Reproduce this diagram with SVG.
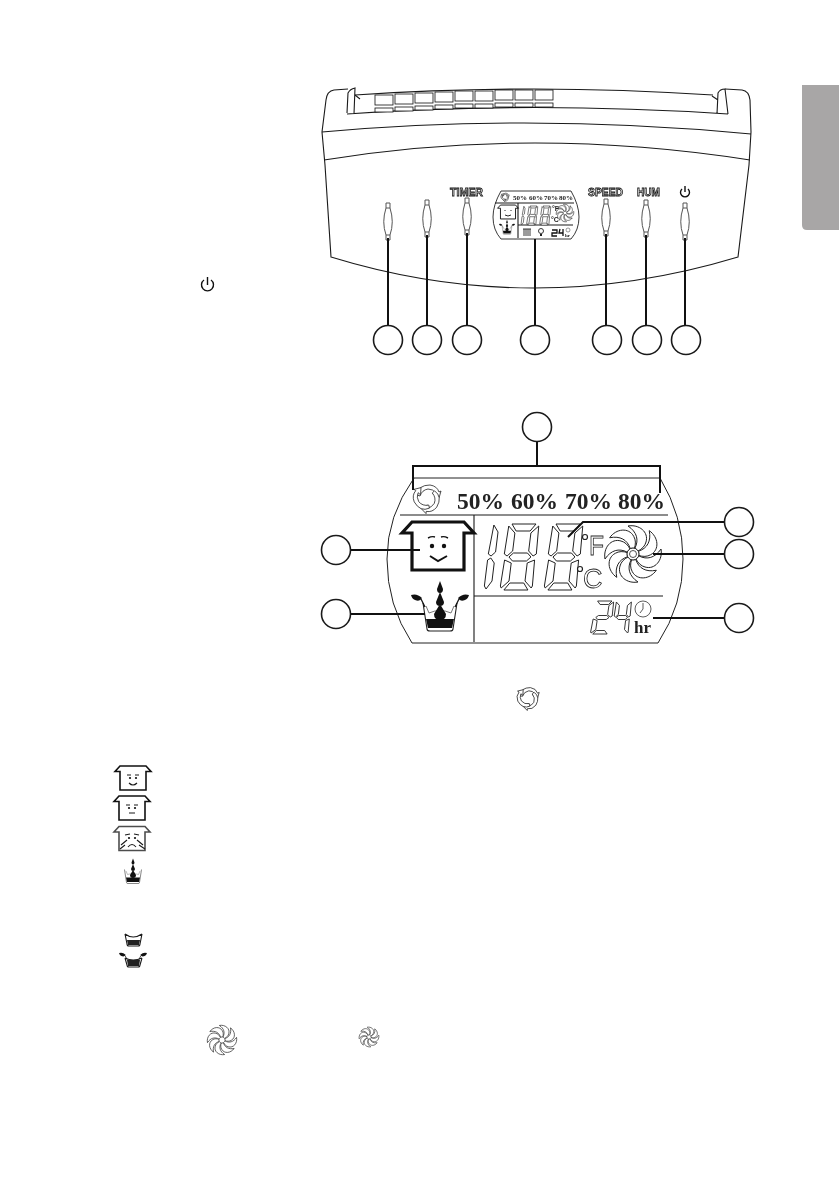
<svg xmlns="http://www.w3.org/2000/svg" xmlns:xlink="http://www.w3.org/1999/xlink" width="840" height="1192" viewBox="0 0 840 1192">
<style>
.l{fill:none;stroke:#1a1a1a;stroke-width:1.1}
.c{fill:#fff;stroke:#1a1a1a;stroke-width:1.6}
.k{fill:none;stroke:#111;stroke-width:2}
.p{fill:none;stroke:#111;stroke-width:1.4}
.b{fill:#fff;stroke:#555;stroke-width:1}
.s{fill:#fff;stroke:#222;vector-effect:non-scaling-stroke}
.g{fill:#fff;stroke:#111;stroke-width:.8}
.f{fill:#fff;stroke:#222;vector-effect:non-scaling-stroke}
.pct{font-family:"Liberation Serif",serif;font-weight:bold;fill:#222;filter:url(#n)}
.lab{font-family:"Liberation Sans",sans-serif;font-weight:bold;font-size:11.5px;fill:#ddd;stroke:#111;stroke-width:.8;filter:url(#n)}
.o{font-family:"Liberation Sans",sans-serif;fill:#fff;stroke:#222;stroke-width:.8;filter:url(#n)}
.m{font-family:"Liberation Sans",sans-serif;font-size:7px;font-weight:bold;fill:#222;filter:url(#n)}
</style>
<defs>
<filter id="n" x="-20%" y="-20%" width="140%" height="140%"><feOffset dx="0" dy="0"/></filter>
<g id="btn"><path class="b" d="M-2,0H2V5Q6.500,19 2,32V37H-2V32Q-6.500,19 -2,5Z"/><path class="b" d="M-2,5H2M-2,32H2"/></g>
<path id="blade" class="f" d="M2,-6C6,-14 4,-22 -5,-28C6,-30 16,-22 13,-12C12,-8 9,-5 5,-3Z"/>
<g id="fan">
<use xlink:href="#blade"/><use xlink:href="#blade" transform="rotate(45)"/><use xlink:href="#blade" transform="rotate(90)"/><use xlink:href="#blade" transform="rotate(135)"/><use xlink:href="#blade" transform="rotate(180)"/><use xlink:href="#blade" transform="rotate(225)"/><use xlink:href="#blade" transform="rotate(270)"/><use xlink:href="#blade" transform="rotate(315)"/>
</g>
<path id="arc" class="f" d="M-10,-3Q-9,-13 3,-13Q10,-12 12,-6L14,-7L12,0L6,-4L9,-5Q6,-9 1,-9Q-5,-8 -7,-2Z"/>
<g id="recycle"><use xlink:href="#arc"/><use xlink:href="#arc" transform="rotate(120)"/><use xlink:href="#arc" transform="rotate(240)"/></g>
<path id="house" fill="none" stroke="#111" stroke-width="3.200" stroke-linejoin="miter" d="M-26,24V-13H-36L-26,-24H26L36,-13H26V24Z"/>
<path id="seg-a" class="s" d="M6,0H30L25,7H11Z"/>
<path id="seg-b" class="s" d="M33,2L26,9V27L31,32L34,30Z"/>
<path id="seg-c" class="s" d="M33,36L26,39V57L33,64L34,62Z"/>
<path id="seg-d" class="s" d="M6,66H30L25,59H11Z"/>
<path id="seg-e" class="s" d="M3,36L10,39V57L3,64L2,62Z"/>
<path id="seg-f" class="s" d="M3,2L10,9V27L5,32L2,30Z"/>
<path id="seg-g" class="s" d="M7,33L11,29H25L29,33L25,37H11Z"/>
<g id="digit8" transform="skewX(-7)"><use xlink:href="#seg-a"/><use xlink:href="#seg-b"/><use xlink:href="#seg-c"/><use xlink:href="#seg-d"/><use xlink:href="#seg-e"/><use xlink:href="#seg-f"/><use xlink:href="#seg-g"/></g>
<g id="digit1" transform="skewX(-7)"><path class="s" d="M4,1L9,8V28L5,32L2,30ZM2,36L5,34L9,39V57L4,65L2,62Z"/></g>
<g id="digit2" transform="skewX(-7)"><use xlink:href="#seg-a"/><use xlink:href="#seg-b"/><use xlink:href="#seg-g"/><use xlink:href="#seg-e"/><use xlink:href="#seg-d"/></g>
<g id="digit4" transform="skewX(-7)"><use xlink:href="#seg-f"/><use xlink:href="#seg-g"/><use xlink:href="#seg-b"/><use xlink:href="#seg-c"/></g>
<g id="tank">
<path fill="none" stroke="#222" stroke-width="1.1" d="M-17,-13L-13,13Q-13,15-10,15H10Q13,15 13,13L17,-13"/>
<path fill="none" stroke="#555" stroke-width=".8" d="M-14,-10L-11,-3Q0,-8 11,-3L14,-10"/>
<path fill="#111" d="M-14,3H14L12,12H-12Z"/>
<path fill="#111" d="M0,-35L3,-27Q3,-23 0,-23Q-3,-23-3,-27ZM0,-24L4,-14Q4,-10 0,-10Q-4,-10-4,-14ZM0,-12L6,-2Q6,4 0,4Q-6,4-6,-2Z"/>
</g>
<g id="splash"><path fill="#111" d="M0,0Q6,-2 11,3Q9,7 4,5Q1,4 0,0Z"/><path fill="none" stroke="#111" stroke-width="1.200" d="M10,4L14,12"/></g>
</defs>

<g id="tab"><path d="M802,85H839V230H807Q802,230 802,225Z" fill="#a8a6a6"/></g>

<g id="device">
<path class="l" d="M348,89L334,90Q327,91 326,100L322,132L325,165L331,257Q533,319 738,257L749,165L751,132L750,100Q749,91 742,90L725,89"/>
<path class="l" d="M355,95Q533,83 713,95"/>
<path class="l" d="M347,113L348,93Q350,89 355,88L354,114M717,114L718,93Q720,89 725,89L728,114M347,114Q533,101 728,114M355,95L360,99M712,96L718,100"/>
<path class="l" d="M322,132Q533,113 751,134M324,160Q533,126 750,160"/>
<g class="g">
<rect x="375" y="95" width="18" height="10"/><rect x="395" y="94" width="18" height="10"/><rect x="415" y="93" width="18" height="10"/><rect x="435" y="92" width="18" height="10"/><rect x="455" y="91" width="18" height="10"/><rect x="475" y="91" width="18" height="10"/><rect x="495" y="90" width="18" height="10"/><rect x="515" y="90" width="18" height="10"/><rect x="535" y="90" width="18" height="10"/>
<rect x="375" y="108" width="18" height="4"/><rect x="395" y="107" width="18" height="4"/><rect x="415" y="106" width="18" height="4"/><rect x="435" y="105" width="18" height="4"/><rect x="455" y="104" width="18" height="4"/><rect x="475" y="104" width="18" height="4"/><rect x="495" y="103" width="18" height="4"/><rect x="515" y="103" width="18" height="4"/><rect x="535" y="103" width="18" height="4"/>
</g>
</g>

<g id="button-1"><use xlink:href="#btn" x="388" y="203"/></g>
<g id="button-2"><use xlink:href="#btn" x="427" y="200"/></g>
<g id="button-timer"><use xlink:href="#btn" x="467" y="198"/><text class="lab" x="450" y="196" textLength="33" lengthAdjust="spacingAndGlyphs">TIMER</text></g>
<g id="button-speed"><use xlink:href="#btn" x="606" y="199"/><text class="lab" x="588" y="196" textLength="35" lengthAdjust="spacingAndGlyphs">SPEED</text></g>
<g id="button-hum"><use xlink:href="#btn" x="646" y="200"/><text class="lab" x="637" y="196" textLength="23" lengthAdjust="spacingAndGlyphs">HUM</text></g>
<g id="button-power"><use xlink:href="#btn" x="685" y="203"/><path class="p" d="M682,189A4.500,4.500 0 1 0 688,189M685,186V192"/></g>

<g id="mini-display">
<path fill="#fff" stroke="#222" stroke-width=".9" d="M501,191H571Q579,205 579,217Q579,230 571,239H501Q493,230 493,217Q493,205 501,191Z"/>
<path class="l" d="M495,203H574M518,203V238M518,225H573"/>
<use xlink:href="#recycle" stroke-width=".6" transform="translate(505,197) scale(.3)"/>
<text class="pct" font-size="7" x="513" y="200">50%</text><text class="pct" font-size="7" x="529" y="200">60%</text><text class="pct" font-size="7" x="544" y="200">70%</text><text class="pct" font-size="7" x="559" y="200">80%</text>
<use xlink:href="#house" transform="translate(508,212) scale(.29)" stroke-width="4"/>
<path d="M505,210V211M511,210V211M505,215Q508,217 511,215" fill="none" stroke="#111" stroke-width=".9"/>
<use xlink:href="#tank" transform="translate(507,230) scale(.29)"/>
<use xlink:href="#splash" transform="translate(499,224) scale(.3)"/><use xlink:href="#splash" transform="translate(515,224) scale(-.3,.3)"/>
<g transform="translate(521,206) scale(.29)" stroke-width=".6"><use xlink:href="#digit1" x="6"/><use xlink:href="#digit8" x="25"/><use xlink:href="#digit8" x="70"/></g>
<text class="m" x="552" y="211">°F</text>
<text class="m" x="551" y="222">°C</text>
<use xlink:href="#fan" stroke-width=".6" transform="translate(565,213) scale(.31)"/>
<path d="M524,229V236M526,229V236M528,229V236M530,229V236M523,229H531" fill="none" stroke="#222" stroke-width=".9"/>
<circle cx="541" cy="231" r="2.500" fill="#fff" stroke="#222" stroke-width=".9"/><path d="M540,234H542V236H540Z" fill="#222"/>
<path d="M552,230H557V233H552V236H557M560,229L559,233H563M563,229V236" fill="none" stroke="#111" stroke-width="1.300"/>
<circle cx="568" cy="230" r="2" fill="#fff" stroke="#555" stroke-width=".6"/>
<text class="pct" font-size="5" x="565" y="237">hr</text>
</g>

<g id="display">
<path fill="#fff" stroke="#222" stroke-width="1" d="M414,478H660Q683,516 683,559Q683,605 658,643H412Q387,605 387,559Q387,516 414,478Z"/>
<path class="l" d="M400,515H668M474,515V642M474,596H663"/>
<g id="humidity"><use xlink:href="#recycle" stroke-width=".8" transform="translate(427,498)"/>
<text class="pct" font-size="23.500" x="457" y="509">50%</text><text class="pct" font-size="23.500" x="511" y="509">60%</text><text class="pct" font-size="23.500" x="565" y="509">70%</text><text class="pct" font-size="23.500" x="618" y="509">80%</text></g>
<g id="air-quality"><use xlink:href="#house" transform="translate(438,546)"/>
<circle cx="432" cy="546" r="2.200" fill="#111"/><circle cx="444" cy="546" r="2.200" fill="#111"/><path class="p" d="M428,538Q432,536 435,537M441,537Q444,536 448,538"/><path class="k" d="M430,556L438,561L447,556"/></g>
<g id="water-tank"><use xlink:href="#tank" transform="translate(440,616)"/><use xlink:href="#splash" transform="translate(411,595)"/><use xlink:href="#splash" transform="translate(469,595) scale(-1,1)"/></g>
<g id="temperature" stroke-width="1"><use xlink:href="#digit1" x="490" y="524"/><use xlink:href="#digit8" x="506" y="524"/><use xlink:href="#digit8" x="550" y="524"/>
<text class="o" font-size="27" x="589" y="555" textLength="15" lengthAdjust="spacingAndGlyphs">F</text><text class="o" font-size="27" x="583" y="588">C</text>
<circle cx="585" cy="537" r="2.500" fill="#fff" stroke="#222" stroke-width="1.200"/><circle cx="580" cy="569" r="2.500" fill="#fff" stroke="#222" stroke-width="1.200"/></g>
<g id="fan-speed"><use xlink:href="#fan" stroke-width="1" transform="translate(633,554)"/><circle cx="633" cy="554" r="6" fill="#fff" stroke="#222" stroke-width="1"/><circle cx="633" cy="554" r="3.500" fill="#fff" stroke="#222" stroke-width=".8"/></g>
<g id="timer-display" stroke-width=".9">
<use xlink:href="#digit2" transform="translate(594,601) scale(.6,.5)"/><use xlink:href="#digit4" transform="translate(615,601) scale(.5)"/>
<circle cx="643" cy="609" r="8" fill="#fff" stroke="#333" stroke-width=".8"/><path d="M643,603V609L640,613" fill="none" stroke="#333" stroke-width=".8"/>
<text class="pct" font-size="17" x="634" y="633">hr</text></g>
</g>

<g id="icon-recycle"><use xlink:href="#recycle" stroke-width=".8" transform="translate(528,698) scale(.8)"/></g>
<g id="icon-house-good"><use xlink:href="#house" transform="translate(133,778) scale(.5)"/><circle cx="130" cy="778" r="1.100" fill="#111"/><circle cx="136" cy="778" r="1.100" fill="#111"/><path class="l" d="M127,775H131M135,775H139M129,783Q133,787 137,783"/></g>
<g id="icon-house-fair"><use xlink:href="#house" transform="translate(132,808) scale(.5)"/><circle cx="129" cy="808" r="1.100" fill="#111"/><circle cx="135" cy="808" r="1.100" fill="#111"/><path class="l" d="M126,805H130M134,805H138M129,813H135"/></g>
<g id="icon-house-poor"><use xlink:href="#house" transform="translate(132,838.500) scale(.5)" opacity=".75"/><circle cx="129" cy="838" r="1.100" fill="#111"/><circle cx="135" cy="838" r="1.100" fill="#111"/><path class="l" d="M125,835L130,834M134,834L139,835M128,847Q132,842 136,847M121,845L127,840M120,849L125,845M137,840L143,845M139,845L145,849"/></g>
<g id="icon-tank"><use xlink:href="#tank" transform="translate(133,876) scale(.5)"/></g>
<g id="icon-tank-empty"><path class="l" d="M125,934L127,944Q127,946 129,946H138Q140,946 140,944L142,934M125,934Q133,940 142,934"/><path d="M127,940H140L139,945H128Z" fill="#222"/></g>
<g id="icon-tank-full"><path class="l" d="M125,958L127,965Q127,967 129,967H138Q140,967 140,965L142,958M125,958Q133,962 142,958"/><path d="M127,960H140L139,966H128Z" fill="#222"/><use xlink:href="#splash" transform="translate(119,953) scale(.6)"/><use xlink:href="#splash" transform="translate(147,953) scale(-.6,.6)"/></g>
<g id="icon-fan-1"><use xlink:href="#fan" stroke-width=".7" transform="translate(222,1040) scale(.52)"/></g>
<g id="icon-fan-2"><use xlink:href="#fan" stroke-width=".6" transform="translate(369,1037) scale(.35)"/></g>
<g id="icon-power"><path class="p" d="M204,280A6,6 0 1 0 211,280M207.500,277V285"/></g>

<g id="connectors" class="k">
<path d="M388,238V326M427,235V326M467,233V326M535,239V326M606,234V326M646,235V326M685,238V326"/>
<path d="M537,441V466M413,490V466H660V493"/>
<path d="M351,550H420M351,614H425M724,522H583L568,537M724,554H653M724,618H653"/>
</g>

<g id="callouts">
<circle class="c" cx="388" cy="340" r="14.500"/><circle class="c" cx="427" cy="340" r="14.500"/><circle class="c" cx="467" cy="340" r="14.500"/><circle class="c" cx="535" cy="340" r="14.500"/><circle class="c" cx="607" cy="340" r="14.500"/><circle class="c" cx="647" cy="340" r="14.500"/><circle class="c" cx="686" cy="340" r="14.500"/>
<circle class="c" cx="537" cy="427" r="14.500"/><circle class="c" cx="336" cy="550" r="14.500"/><circle class="c" cx="336" cy="614" r="14.500"/><circle class="c" cx="739" cy="522" r="14.500"/><circle class="c" cx="739" cy="554" r="14.500"/><circle class="c" cx="739" cy="618" r="14.500"/>
</g>
</svg>
